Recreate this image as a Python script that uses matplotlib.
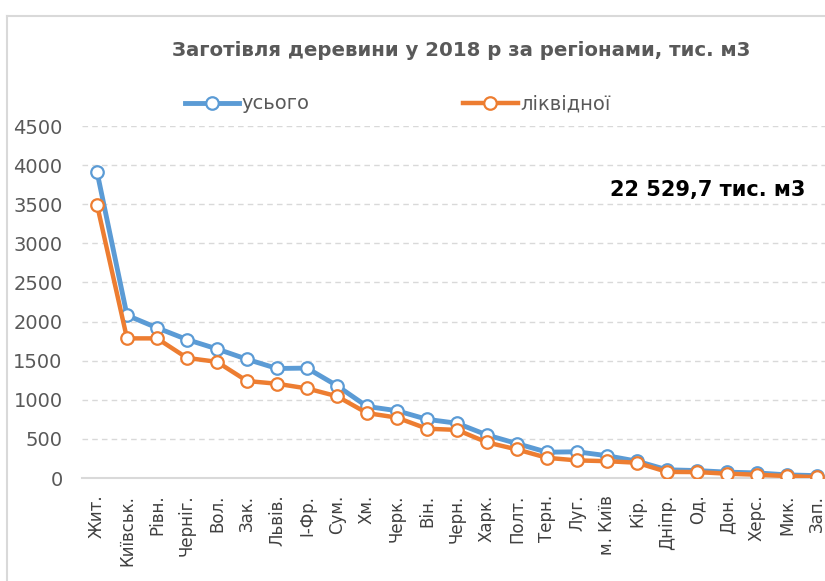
import matplotlib
matplotlib.use("Agg")
import matplotlib.pyplot as plt
from matplotlib.lines import Line2D

regions = ["Жит.", "Київськ.", "Рівн.", "Черніг.", "Вол.", "Зак.", "Львів.", "І-Фр.",
           "Сум.", "Хм.", "Черк.", "Він.", "Черн.", "Харк.", "Полт.", "Терн.", "Луг.",
           "м. Київ", "Кір.", "Дніпр.", "Од.", "Дон.", "Херс.", "Мик.", "Зап."]
total = [3915, 2080, 1920, 1770, 1650, 1518, 1400, 1405, 1180, 915, 860, 750, 700,
         550, 440, 330, 335, 285, 215, 105, 95, 75, 65, 40, 30]
liquid = [3495, 1785, 1785, 1535, 1485, 1240, 1205, 1145, 1045, 830, 772, 630, 615,
          455, 365, 258, 225, 215, 195, 78, 76, 55, 42, 25, 10]
yticks = [0, 500, 1000, 1500, 2000, 2500, 3000, 3500, 4000, 4500]
title = "Заготівля деревини у 2018 р за регіонами, тис. м3"
note = "22 529,7 тис. м3"
series_names = ["усього", "ліквідної"]

BLUE = "#5B9BD5"
ORANGE = "#ED7D31"
GRID = "#D9D9D9"
TXT = "#595959"

W, H = 825, 581
fig = plt.figure(figsize=(W / 100, H / 100), dpi=100)
fig.patch.set_facecolor("white")

left, right, top, bottom = 82, 832, 126, 478
ax = fig.add_axes([left / W, 1 - bottom / H, (right - left) / W, (bottom - top) / H])

x = list(range(len(regions)))
ax.plot(x, total, color=BLUE, lw=3.5, marker="o", ms=9, mfc="white",
        mec=BLUE, mew=1.6, label=series_names[0], zorder=3, solid_joinstyle="round")
ax.plot(x, liquid, color=ORANGE, lw=3.2, marker="o", ms=9, mfc="white",
        mec=ORANGE, mew=1.6, label=series_names[1], zorder=4, solid_joinstyle="round")

ax.set_xlim(-0.5, len(regions) - 0.5)
ax.set_ylim(0, 4500)
ax.set_yticks(yticks)
ax.set_yticklabels([str(v) for v in yticks])
ax.set_xticks(x)
ax.set_xticklabels(regions, rotation=90, ha="center", va="top")
ax.tick_params(axis="y", length=0, pad=14, labelsize=14, labelcolor=TXT)
ax.tick_params(axis="x", length=0, pad=12, labelsize=12, labelcolor="#404040")
ax.yaxis.grid(True, color=GRID, lw=1.0, ls=(0, (4, 3)))
ax.set_axisbelow(True)
for s in ["top", "right", "left"]:
    ax.spines[s].set_visible(False)
ax.spines["bottom"].set_color(GRID)
ax.spines["bottom"].set_linewidth(1.5)

fig.text(461 / W, 1 - 50 / H, title, ha="center", va="center",
         fontsize=14.2, fontweight="bold", color=TXT)

fig.text(708 / W, 1 - 190 / H, note, ha="center", va="center",
         fontsize=15, fontweight="bold", color="black")

leg = fig.legend(loc="center", bbox_to_anchor=(397.5 / W, 1 - 104 / H), ncol=2,
                 frameon=False, handlelength=2.8, handletextpad=0.12,
                 columnspacing=7.9, prop={"size": 14})
for t in leg.get_texts():
    t.set_color(TXT)

fx = 7 / W
fy = 1 - 16 / H
fig.add_artist(Line2D([fx, fx], [0, fy], transform=fig.transFigure, color=GRID, lw=1.5))
fig.add_artist(Line2D([fx, 1], [fy, fy], transform=fig.transFigure, color=GRID, lw=1.5))

fig.savefig("out.png", dpi=100)
